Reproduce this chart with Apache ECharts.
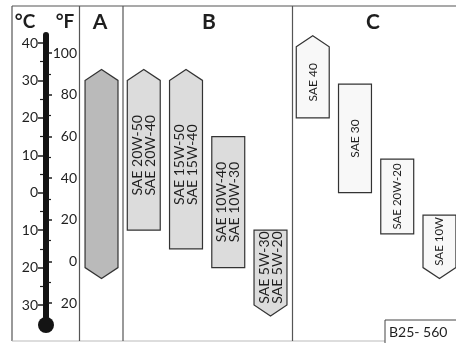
<!DOCTYPE html>
<html><head><meta charset="utf-8">
<script src="https://cdn.jsdelivr.net/npm/echarts@6/dist/echarts.min.js"></script>
<style>html,body{margin:0;padding:0;background:#fff}#c{width:456px;height:343px}</style>
</head><body><div id="c"></div><script>
// ---- data ----
const bandNames   = ['A', '20W-50', '15W-50', '10W-40', '5W-30', '40', '30', '20W-20', '10W'];
const lowC        = [-20, -10, -15, -20, -30, 20,  0, -11, -20];
const highC       = [ 30,  30,  30,  15, -10, 39, 29,   9,  -6];
const openBelow   = [true, false, false, false, true, false, false, false, true];
const openAbove   = [true, true, true, false, false, true, false, false, false];
const bandLabels  = ['', 'SAE 20W-50\nSAE 20W-40', 'SAE 15W-50\nSAE 15W-40', 'SAE 10W-40\nSAE 10W-30',
                     'SAE 5W-30\nSAE 5W-20', 'SAE 40', 'SAE 30', 'SAE 20W-20', 'SAE 10W'];
const bandGroup   = ['A', 'B', 'B', 'B', 'B', 'C', 'C', 'C', 'C'];
const groupNames  = ['A', 'B', 'C'];
const celsiusTicks    = [-30, -20, -10, 0, 10, 20, 30, 40];
const fahrenheitTicks = [-20, 0, 20, 40, 60, 80, 100];
const unitLabels  = ['°C', '°F'];
const plateCode   = 'B25- 560';

// ---- styles ----
const FONT = 'Lato, "Noto Sans", sans-serif';
const groupStyle = {
  A: { fill: '#bababa', font: 14 },
  B: { fill: '#dcdcdc', font: 14 },
  C: { fill: '#f8f8f8', font: 12 }
};
const labelFontOverride = { 7: 11.5, 8: 11.5 };
const ink = '#1e1e1e';

const chart = echarts.init(document.getElementById('c'), null, { renderer: 'canvas' });

const option = {
  animation: false,
  backgroundColor: '#ffffff',
  grid: [
    { left: 80.4, width: 380.2, top: 43, height: 262, outerBoundsMode: 'none' },
    { left: 43, width: 1, top: 43, height: 262, outerBoundsMode: 'none' },
    { left: 48, width: 1, top: 53, height: 250, outerBoundsMode: 'none' }
  ],
  xAxis: [
    { gridIndex: 0, type: 'category', data: bandNames, show: false },
    { gridIndex: 1, type: 'value', show: false },
    { gridIndex: 2, type: 'value', show: false }
  ],
  yAxis: [
    { gridIndex: 0, type: 'value', min: celsiusTicks[0], max: celsiusTicks[celsiusTicks.length - 1], show: false },
    { gridIndex: 1, type: 'value', position: 'left',
      min: celsiusTicks[0], max: celsiusTicks[celsiusTicks.length - 1], interval: 10,
      axisLine: { show: false },
      axisTick: { show: true, length: 5, lineStyle: { color: ink, width: 1.5 } },
      minorTick: { show: true, splitNumber: 2, length: 3, lineStyle: { color: ink, width: 1.2 } },
      splitLine: { show: false },
      axisLabel: { formatter: v => String(Math.abs(v)), margin: 5, fontSize: 14, color: ink, fontFamily: FONT }
    },
    { gridIndex: 2, type: 'value', position: 'right',
      min: fahrenheitTicks[0], max: fahrenheitTicks[fahrenheitTicks.length - 1], interval: 20,
      axisLine: { show: false },
      axisTick: { show: true, length: 4, lineStyle: { color: ink, width: 1.5 } },
      minorTick: { show: true, splitNumber: 2, length: 3, lineStyle: { color: ink, width: 1.2 } },
      splitLine: { show: false },
      axisLabel: { formatter: v => String(Math.abs(v)), margin: 28, align: 'right', fontSize: 14, color: ink, fontFamily: FONT }
    }
  ],
  graphic: [
    // frame
    { type: 'line', shape: { x1: 12, y1: 6, x2: 456, y2: 6 }, style: { stroke: '#555', lineWidth: 1.2 } },
    { type: 'line', shape: { x1: 12, y1: 6, x2: 12, y2: 341 }, style: { stroke: '#555', lineWidth: 1.2 } },
    { type: 'line', shape: { x1: 12, y1: 341, x2: 456, y2: 341 }, style: { stroke: '#bbb', lineWidth: 1 } },
    { type: 'line', shape: { x1: 79.5, y1: 6, x2: 79.5, y2: 341 }, style: { stroke: '#555', lineWidth: 1.2 } },
    { type: 'line', shape: { x1: 123, y1: 6, x2: 123, y2: 341 }, style: { stroke: '#555', lineWidth: 1.2 } },
    { type: 'line', shape: { x1: 292.5, y1: 6, x2: 292.5, y2: 341 }, style: { stroke: '#555', lineWidth: 1.2 } },
    // headers
    { type: 'text', x: 25, y: 22, style: { text: unitLabels[0], font: 'bold 19px ' + FONT, fill: ink, align: 'center', verticalAlign: 'middle' } },
    { type: 'text', x: 65, y: 22, style: { text: unitLabels[1], font: 'bold 19px ' + FONT, fill: ink, align: 'center', verticalAlign: 'middle' } },
    { type: 'text', x: 100, y: 22, style: { text: groupNames[0], font: 'bold 21px ' + FONT, fill: ink, align: 'center', verticalAlign: 'middle' } },
    { type: 'text', x: 209, y: 22, style: { text: groupNames[1], font: 'bold 21px ' + FONT, fill: ink, align: 'center', verticalAlign: 'middle' } },
    { type: 'text', x: 373, y: 22, style: { text: groupNames[2], font: 'bold 21px ' + FONT, fill: ink, align: 'center', verticalAlign: 'middle' } },
    // thermometer
    { type: 'rect', shape: { x: 43, y: 32, width: 6, height: 288, r: 3 }, style: { fill: '#141414' } },
    { type: 'circle', shape: { cx: 46, cy: 325, r: 8 }, style: { fill: '#141414' } },
    // plate code
    { type: 'rect', shape: { x: 385, y: 320, width: 80, height: 30 }, style: { fill: '#fff', stroke: '#444', lineWidth: 1 } },
    { type: 'text', x: 389, y: 332, style: { text: plateCode, font: '14px ' + FONT, fill: ink, verticalAlign: 'middle' } }
  ],
  series: [{
    type: 'custom',
    xAxisIndex: 0, yAxisIndex: 0,
    data: bandNames.map((n, i) => [i, lowC[i], highC[i]]),
    renderItem: (params, api) => {
      const i = params.dataIndex;
      const x = api.coord([api.value(0), 0])[0];
      const yl = api.coord([i, api.value(1)])[1];
      const yh = api.coord([i, api.value(2)])[1];
      const w = api.size([1, 0])[0] * 0.78;
      const tip = 11;
      const pts = [
        [x - w / 2, yh], [x, yh - (openAbove[i] ? tip : 0)], [x + w / 2, yh],
        [x + w / 2, yl], [x, yl + (openBelow[i] ? tip : 0)], [x - w / 2, yl]
      ];
      const st = groupStyle[bandGroup[i]];
      const fs = labelFontOverride[i] || st.font;
      return {
        type: 'group',
        children: [
          { type: 'polygon', shape: { points: pts }, style: { fill: st.fill, stroke: '#333', lineWidth: 1.2 } },
          { type: 'text', x: x, y: (yl + yh) / 2, rotation: Math.PI / 2,
            style: { text: bandLabels[i], align: 'center', verticalAlign: 'middle',
                     font: fs + 'px ' + FONT, fill: ink, lineHeight: st.font - 1 } }
        ]
      };
    }
  }]
};
chart.setOption(option);
</script></body></html>
